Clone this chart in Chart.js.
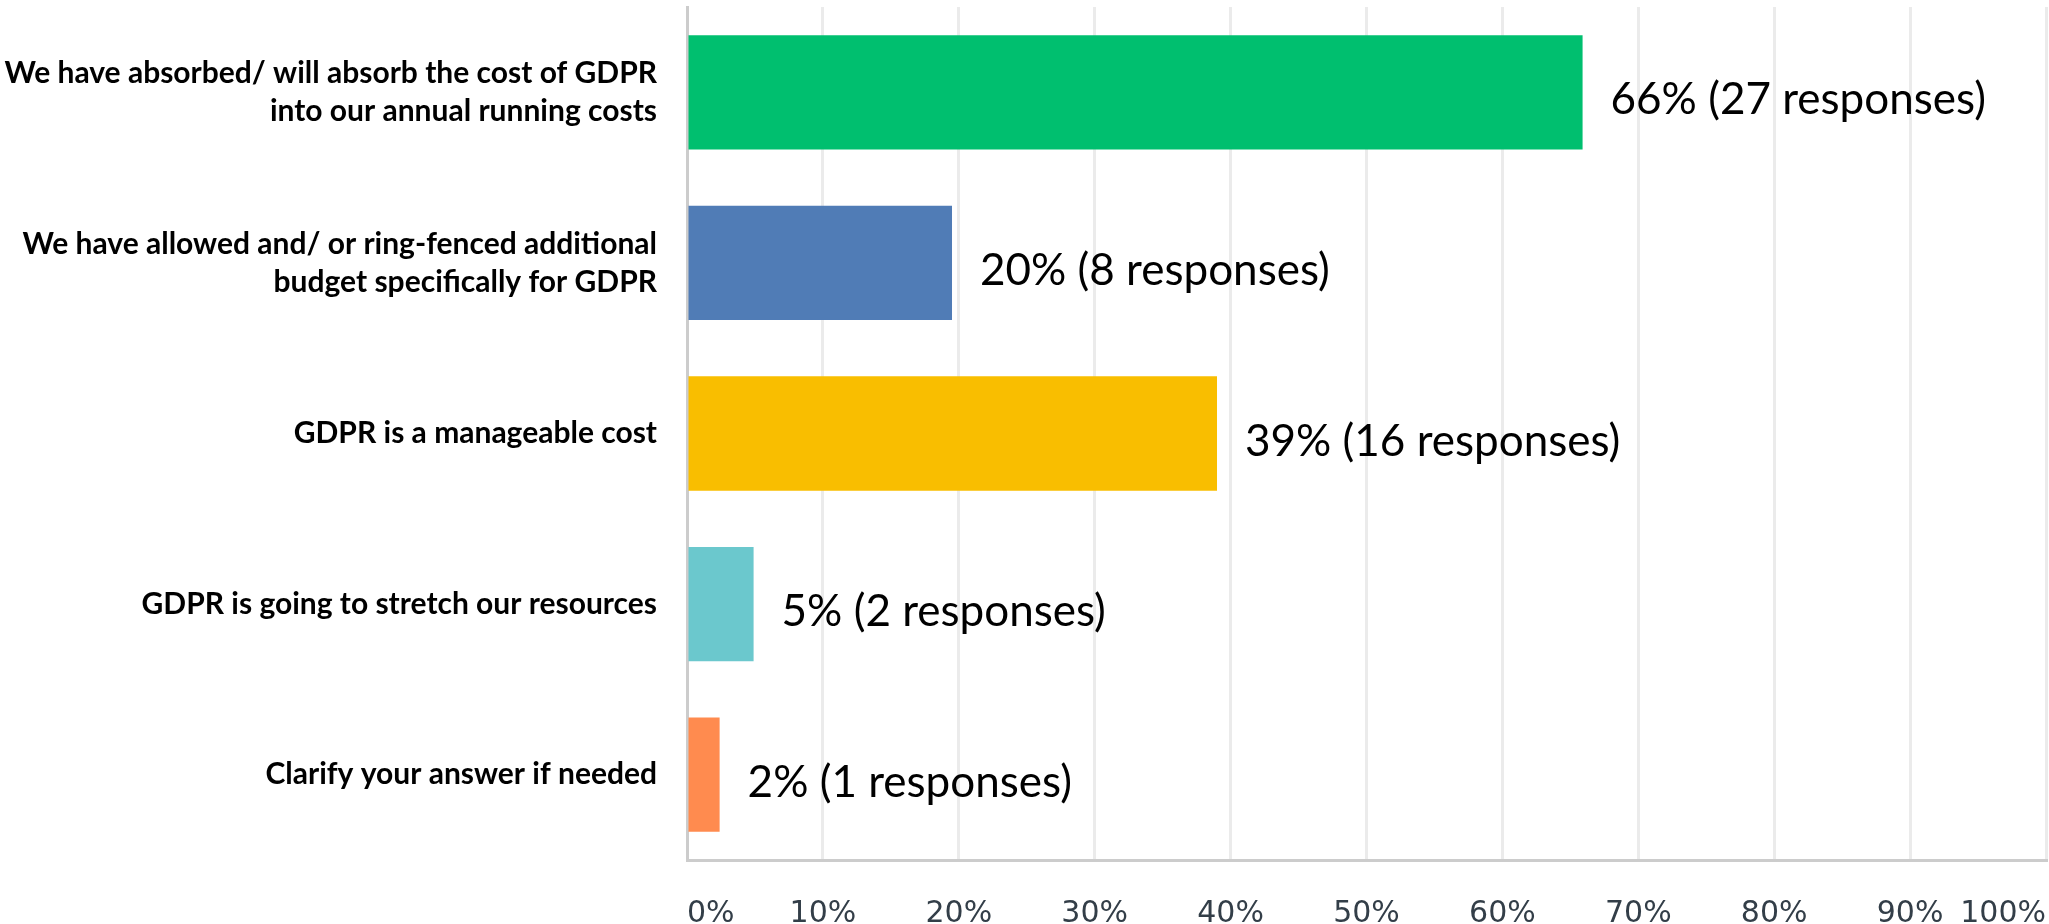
<!DOCTYPE html>
<html>
<head>
<meta charset="utf-8">
<title>GDPR cost</title>
<script src="https://cdn.jsdelivr.net/npm/chart.js@4.4.1/dist/chart.umd.min.js"></script>
<style>
    html, body { margin: 0; padding: 0; background: #ffffff; }
    #wrap { width: 2049px; height: 924px; position: relative; }
</style>
</head>
<body>
<div id="wrap"><canvas id="costChart"></canvas></div>
<script>
// Answer options (y axis)
const categories = [
    ["We have absorbed/ will absorb the cost of GDPR", "into our annual running costs"],
    ["We have allowed and/ or ring-fenced additional", "budget specifically for GDPR"],
    "GDPR is a manageable cost",
    "GDPR is going to stretch our resources",
    "Clarify your answer if needed"
];

// Share of respondents (%) and raw counts
const percentages = [65.9, 19.5, 39.0, 4.9, 2.4];
const responses = [27, 8, 16, 2, 1];

const barColors = ["#00bf6f", "#507cb6", "#f9be00", "#6bc8cd", "#ff8b4f"];

// x axis ticks
const xTicks = [0, 10, 20, 30, 40, 50, 60, 70, 80, 90, 100];

// Draw "66% (27 responses)" next to each bar
const valueLabels = {
    id: "valueLabels",
    afterDatasetsDraw(chart) {
        const ctx = chart.ctx;
        const meta = chart.getDatasetMeta(0);
        ctx.save();
        ctx.font = "44px Lato";
        ctx.fillStyle = "#000000";
        ctx.textAlign = "left";
        ctx.textBaseline = "middle";
        meta.data.forEach((bar, i) => {
            const txt = `${Math.round(percentages[i])}% (${responses[i]} responses)`;
            ctx.fillText(txt, bar.x + 28, bar.y + 8);
        });
        ctx.restore();
    }
};

new Chart(document.getElementById("costChart"), {
    type: "bar",
    data: {
        labels: categories,
        datasets: [{
            data: percentages,
            backgroundColor: barColors,
            borderWidth: 0,
            categoryPercentage: 0.67,
            barPercentage: 1.0
        }]
    },
    options: {
        indexAxis: "y",
        responsive: true,
        maintainAspectRatio: false,
        animation: false,
        layout: { padding: { top: 7, right: 3, left: 0, bottom: 0 } },
        plugins: {
            legend: { display: false },
            tooltip: { enabled: false }
        },
        scales: {
            x: {
                min: 0,
                max: 100,
                afterBuildTicks(scale) {
                    scale.ticks = xTicks.map(v => ({ value: v }));
                },
                afterFit(scale) {
                    scale.height = 64;
                    scale.paddingLeft = 0;
                    scale.paddingRight = 0;
                },
                grid: { color: "#ebebeb", lineWidth: 3, drawTicks: false },
                border: { color: "#cccccc", width: 3 },
                ticks: {
                    align: "inner",
                    padding: 36,
                    color: "#333e48",
                    font: { family: "DejaVu Sans", size: 30 },
                    callback: v => v + "%"
                }
            },
            y: {
                afterFit(scale) {
                    scale.width = 687;
                    scale.paddingTop = 0;
                    scale.paddingBottom = 0;
                },
                grid: { display: false, drawTicks: false },
                border: { color: "#cccccc", width: 3 },
                ticks: {
                    padding: 30,
                    color: "#000000",
                    font: { family: "Lato", weight: "bold", size: 30, lineHeight: 1.27 }
                }
            }
        }
    },
    plugins: [valueLabels]
});
</script>
</body>
</html>
